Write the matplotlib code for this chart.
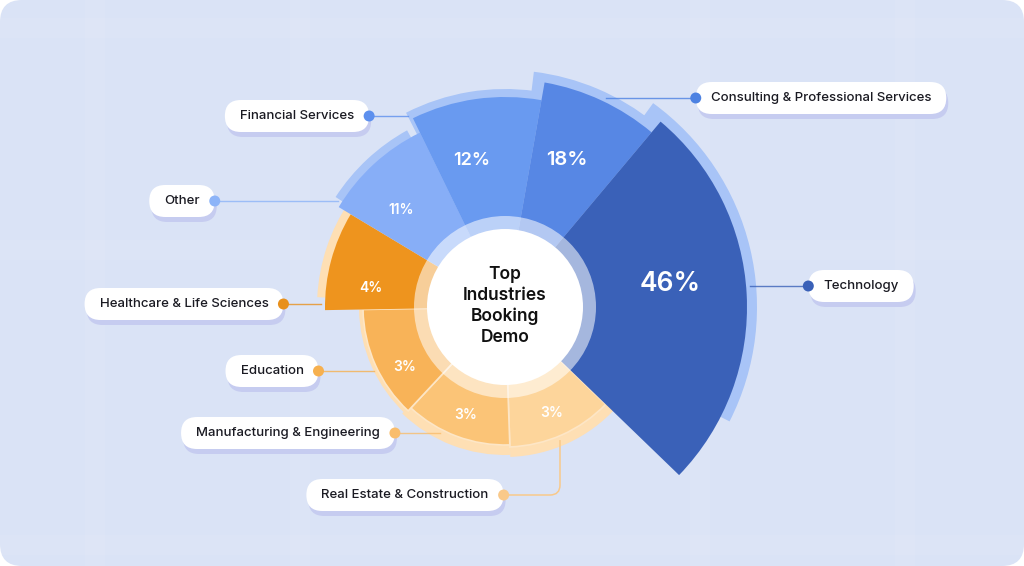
import numpy as np
import matplotlib
matplotlib.use("Agg")
import matplotlib.pyplot as plt
from matplotlib.patches import Wedge, Circle, FancyBboxPatch, PathPatch
from matplotlib.path import Path

plt.rcParams['font.family'] = ['Inter', 'DejaVu Sans']

# data
industries = ["Technology", "Consulting & Professional Services", "Financial Services",
              "Other", "Healthcare & Life Sciences", "Education",
              "Manufacturing & Engineering", "Real Estate & Construction"]
shares = [46, 18, 12, 11, 4, 3, 3, 3]

# layout of the stylised wedges (degrees / pixels), not proportional to the shares
starts = [-44, 50, 80, 116, 149, 181, 227, 272]
ends = [50, 80, 116, 149, 181, 227, 272, 316]
radii = [242, 228, 210, 194, 180, 142, 138, 140]
band_starts = [-27, 51, 82, 119, 146, 181, 226, 272]
band_ends = [54, 83, 117, 147, 177, 227, 272, 318]
band_width = [10, 9, 8, 8, 8, 4, 10, 10]
label_ang = [8, 67, 103, 137, 172, 211, 250, 294]

colors = ["#3A61B8", "#5787E4", "#699AF0", "#87AEF7",
          "#EE941E", "#F8B358", "#FBC477", "#FDD59B"]
band_colors = ["#A8C4F7"] * 4 + ["#FEDFB4"] * 4
dot_colors = ["#3A61B8", "#4D82E2", "#5D90EE", "#8DB4F8",
              "#E8901C", "#F6B04F", "#F9BD6C", "#F9C98A"]
pct_sizes = [19, 14.5, 13, 10, 10, 10, 10, 10]

# callout pills: text centre in pixel coords, which side the dot sits
pill_pos = [(861, 286), (821, 98), (297, 116), (182, 201),
            (184, 304), (272, 371), (288, 433), (405, 495)]
pill_side = ["left", "left", "right", "right", "right", "right", "right", "right"]

W, H = 1024, 566
CX, CY = 505, 307  # pixel coords of the centre


def Y(p):
    return H - p


fig = plt.figure(figsize=(W / 100, H / 100), dpi=100)
fig.patch.set_facecolor("white")
ax = fig.add_axes([0, 0, 1, 1])
ax.set_xlim(0, W)
ax.set_ylim(0, H)
ax.axis("off")

# background card
ax.add_patch(FancyBboxPatch((0, 0), W, H, boxstyle="round,pad=0,rounding_size=22",
                            fc="#DAE3F6", ec="none", zorder=0))
# faint grid texture
for gx in [95, 300, 700, 905]:
    ax.add_patch(FancyBboxPatch((gx - 10, 0), 20, H, boxstyle="square,pad=0",
                                fc="white", ec="none", alpha=0.07, zorder=0.2))
for gy in [28, 250, 545]:
    ax.add_patch(FancyBboxPatch((0, Y(gy) - 10), W, 20, boxstyle="square,pad=0",
                                fc="white", ec="none", alpha=0.07, zorder=0.2))

c = (CX, Y(CY))
n = len(shares)

# light bands behind each wedge
for i in range(n):
    ax.add_patch(Wedge(c, radii[i] + band_width[i], band_starts[i], band_ends[i],
                       fc=band_colors[i], ec="none", zorder=1))

# wedges, technology ends up on top
for i in reversed(range(n)):
    ec = "#FDE6C6" if i >= 5 else "none"
    ax.add_patch(Wedge(c, radii[i], starts[i], ends[i], fc=colors[i],
                       ec=ec, lw=1.2, zorder=2 + (n - i) * 0.01))

# inner ring and white hub
ax.add_patch(Circle(c, 91, fc="white", ec="none", alpha=0.55, zorder=3))
ax.add_patch(Circle(c, 78, fc="white", ec="none", zorder=3.1))
ax.text(CX, Y(CY) + 1, "Top\nIndustries\nBooking\nDemo", ha="center", va="center",
        fontsize=12.5, fontweight="semibold", color="#111111", linespacing=1.3, zorder=4)

# percentage labels
for i in range(n):
    a = np.radians(label_ang[i])
    rl = (91 + radii[i]) / 2
    ax.text(CX + rl * np.cos(a), Y(CY) + rl * np.sin(a), f"{shares[i]}%",
            ha="center", va="center", color="white", fontsize=pct_sizes[i],
            fontweight="semibold", zorder=5)

# callouts
rend = fig.canvas.get_renderer()
pad = 15
for i in range(n):
    px, py = pill_pos[i]
    t = ax.text(px, Y(py), industries[i], ha="center", va="center", fontsize=9.5,
                fontweight="medium", color="#1A1A22", zorder=8)
    tw = t.get_window_extent(renderer=rend).width
    x0 = px - tw / 2 - pad
    bw = tw + 2 * pad
    ax.add_patch(FancyBboxPatch((x0 + 2, Y(py) - 16 - 5), bw, 32,
                                boxstyle="round,pad=0,rounding_size=16",
                                fc="#C6CCF0", ec="none", zorder=6))
    ax.add_patch(FancyBboxPatch((x0, Y(py) - 16), bw, 32,
                                boxstyle="round,pad=0,rounding_size=16",
                                fc="white", ec="none", zorder=7))
    dx = x0 + bw if pill_side[i] == "right" else x0
    R = radii[i] + 4
    if i == n - 1:
        # elbow line that climbs up into the bottom wedge
        vx = CX + 55
        vy = Y(CY) - np.sqrt(R ** 2 - 55 ** 2)
        verts = [(dx, Y(py)), (vx - 10, Y(py)), (vx, Y(py)), (vx, Y(py) + 10), (vx, vy)]
        codes = [Path.MOVETO, Path.LINETO, Path.CURVE3, Path.CURVE3, Path.LINETO]
        ax.add_patch(PathPatch(Path(verts, codes), fc="none", ec=dot_colors[i],
                               lw=1.1, zorder=5.5))
    else:
        dy = CY - py
        ex = np.sqrt(max(R ** 2 - dy ** 2, 0))
        lx = CX - ex if pill_side[i] == "right" else CX + ex
        ax.plot([dx, lx], [Y(py), Y(py)], color=dot_colors[i], lw=1.0, alpha=0.8, zorder=5.5)
    ax.add_patch(Circle((dx, Y(py)), 5.5, fc=dot_colors[i], ec="none", zorder=9))

fig.savefig("out.png", dpi=100, facecolor=fig.get_facecolor())
